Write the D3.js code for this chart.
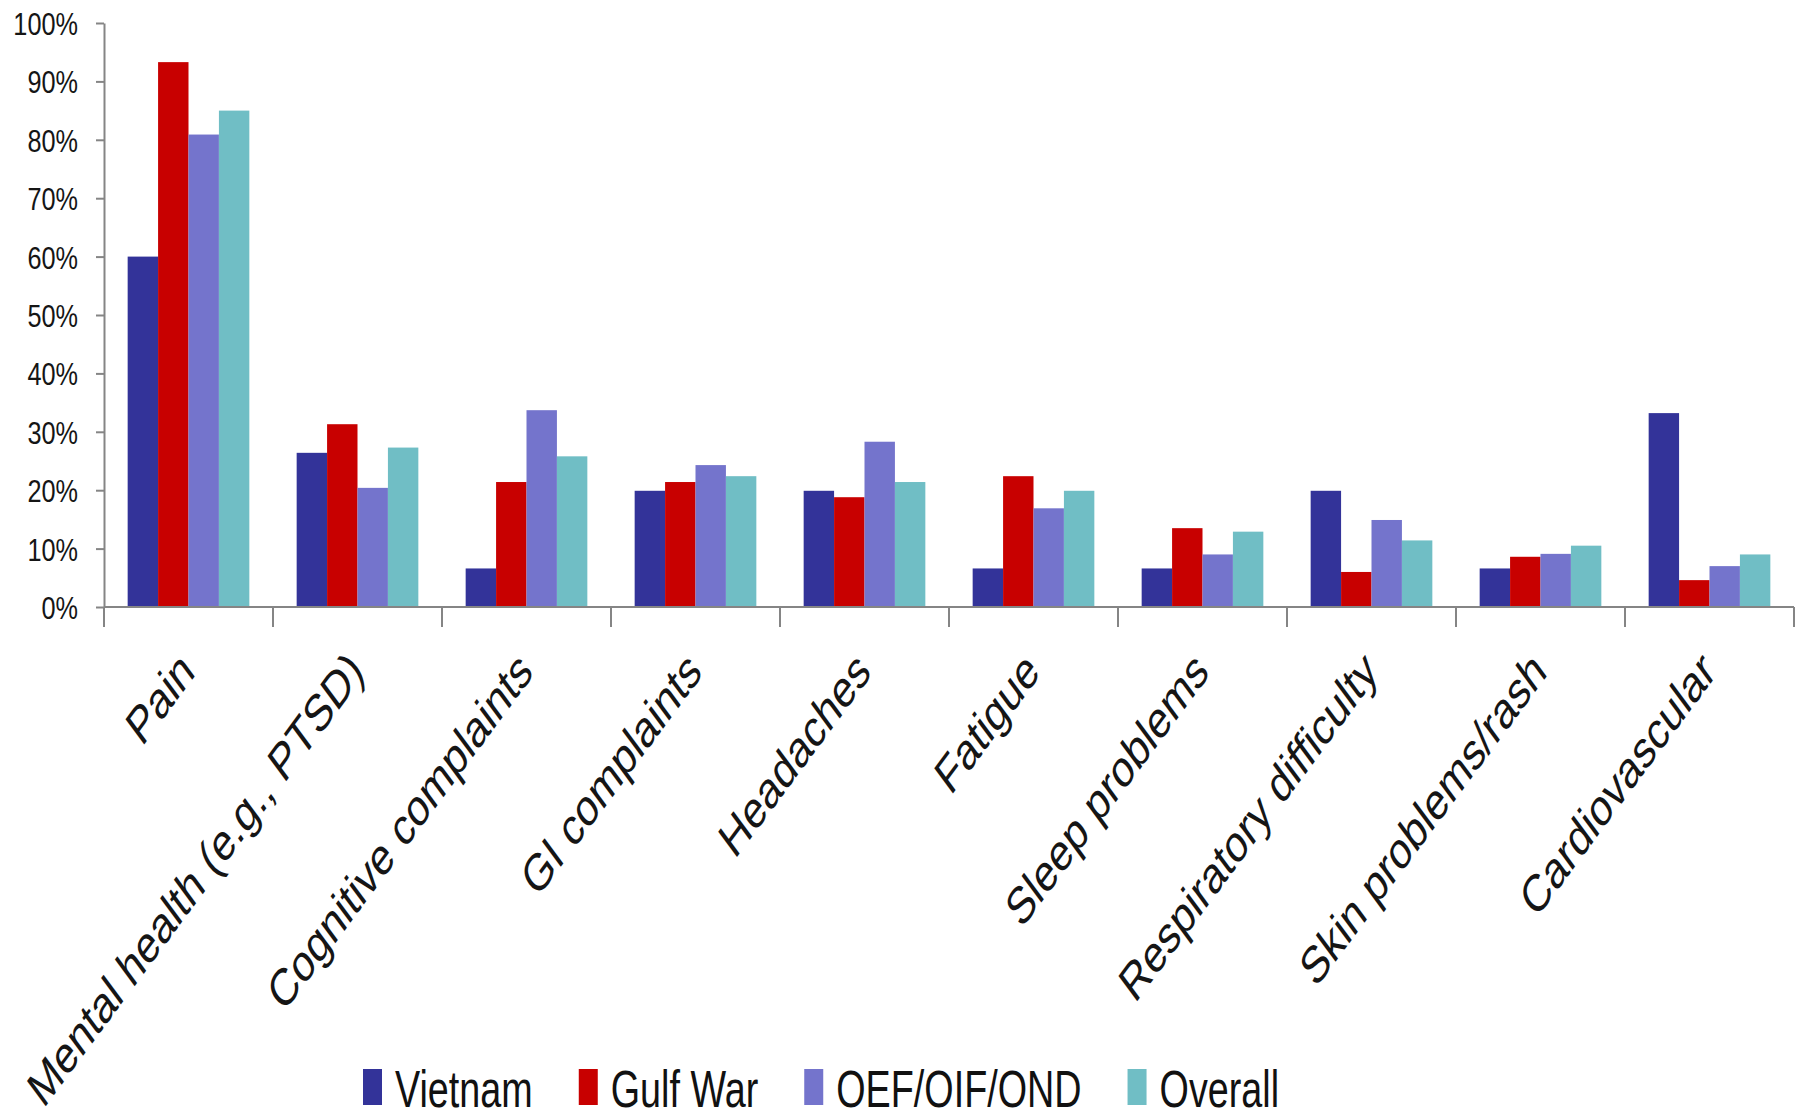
<!DOCTYPE html>
<html>
<head>
<meta charset="utf-8">
<script src="https://cdn.jsdelivr.net/npm/d3@7"></script>
<style>
  body { margin: 0; background: #fff; }
  svg { display: block; font-family: 'Liberation Sans', Arial, sans-serif; }
  .axis path, .axis line { stroke: #858585; stroke-width: 2; }
  .axis text { fill: #151515; }
</style>
</head>
<body>
<div id="chart"></div>
<script>
const width = 1806
const height = 1120

const categories = [
  'Pain',
  'Mental health (e.g., PTSD)',
  'Cognitive complaints',
  'GI complaints',
  'Headaches',
  'Fatigue',
  'Sleep problems',
  'Respiratory difficulty',
  'Skin problems/rash',
  'Cardiovascular'
]
const seriesNames = ['Vietnam', 'Gulf War', 'OEF/OIF/OND', 'Overall']
const colors = ['#333399', '#c80000', '#7474cc', '#70bec5']

const vietnam = [60, 26.4, 6.6, 19.9, 19.9, 6.6, 6.6, 19.9, 6.6, 33.2]
const gulfWar = [93.3, 31.3, 21.4, 21.4, 18.8, 22.4, 13.5, 6.0, 8.6, 4.6]
const oefOifOnd = [80.9, 20.4, 33.7, 24.3, 28.3, 16.9, 9.0, 14.9, 9.1, 7.0]
const overall = [85.0, 27.3, 25.8, 22.4, 21.4, 19.9, 12.9, 11.4, 10.5, 9.0]
const series = [vietnam, gulfWar, oefOifOnd, overall]

const yTicks = [0, 10, 20, 30, 40, 50, 60, 70, 80, 90, 100]

// the source image is squeezed sideways, so text is squeezed too
const squeeze = 0.79
const labelSqueeze = 0.74

const svg = d3
  .select('#chart')
  .append('svg')
  .attr('width', width)
  .attr('height', height)

const x0 = d3
  .scaleBand()
  .domain(categories)
  .range([104, 1794])
  .paddingInner(0.28)
  .paddingOuter(0.14)

const x1 = d3
  .scaleBand()
  .domain(d3.range(seriesNames.length))
  .range([0, x0.bandwidth()])

const y = d3.scaleLinear().domain([0, 100]).range([607, 23])

// bars
svg
  .append('g')
  .selectAll('g')
  .data(categories)
  .enter()
  .append('g')
  .attr('transform', d => 'translate(' + x0(d) + ',0)')
  .selectAll('rect')
  .data((d, i) => series.map((s, k) => ({ k, value: s[i] })))
  .enter()
  .append('rect')
  .attr('x', d => x1(d.k))
  .attr('y', d => y(d.value))
  .attr('width', x1.bandwidth())
  .attr('height', d => y(0) - y(d.value))
  .attr('fill', d => colors[d.k])

// y axis
const yAxis = svg
  .append('g')
  .attr('class', 'axis')
  .attr('transform', 'translate(104,0)')
  .call(
    d3
      .axisLeft(y)
      .tickValues(yTicks)
      .tickSize(8)
      .tickSizeOuter(0)
      .tickFormat(d => d + '%')
  )
yAxis
  .selectAll('text')
  .attr('x', -26 / squeeze)
  .attr('dy', '0.36em')
  .attr('transform', 'scale(' + squeeze + ',1)')
  .style('font-size', '32px')

// x axis: line plus ticks on the category boundaries
const xAxis = svg
  .append('g')
  .attr('class', 'axis')
  .attr('transform', 'translate(0,' + y(0) + ')')
  .call(d3.axisBottom(x0).tickSize(0).tickSizeOuter(0).tickPadding(0))
xAxis.select('.domain').attr('d', 'M104,0H1794')

const gap = (x0.step() - x0.bandwidth()) / 2
const bounds = categories.map(c => x0(c) - gap).concat([x0(categories[categories.length - 1]) + x0.bandwidth() + gap])
xAxis
  .selectAll('.bound')
  .data(bounds)
  .enter()
  .append('line')
  .attr('class', 'bound')
  .attr('x1', d => d)
  .attr('x2', d => d)
  .attr('y1', 0)
  .attr('y2', 20)

xAxis
  .selectAll('.tick text')
  .attr('x', 0)
  .attr('y', 0)
  .attr('dy', 0)
  .attr('text-anchor', 'end')
  .attr('transform', 'translate(8,67) scale(' + labelSqueeze + ',1) rotate(-45)')
  .style('font-size', '52px')

// legend
const legendFont = 51
const legendSqueeze = 0.74
const legend = svg.append('g').attr('transform', 'translate(363,0)')
let lx = 0
seriesNames.forEach((name, i) => {
  legend
    .append('rect')
    .attr('x', lx)
    .attr('y', 1069)
    .attr('width', 19)
    .attr('height', 36)
    .attr('fill', colors[i])
  const t = legend
    .append('text')
    .attr('x', 0)
    .attr('y', 0)
    .attr('transform', 'translate(' + (lx + 32) + ',1107) scale(' + legendSqueeze + ',1)')
    .style('font-size', legendFont + 'px')
    .style('fill', '#111')
    .text(name)
  lx += 32 + t.node().getComputedTextLength() * legendSqueeze + 46
})
</script>
</body>
</html>
